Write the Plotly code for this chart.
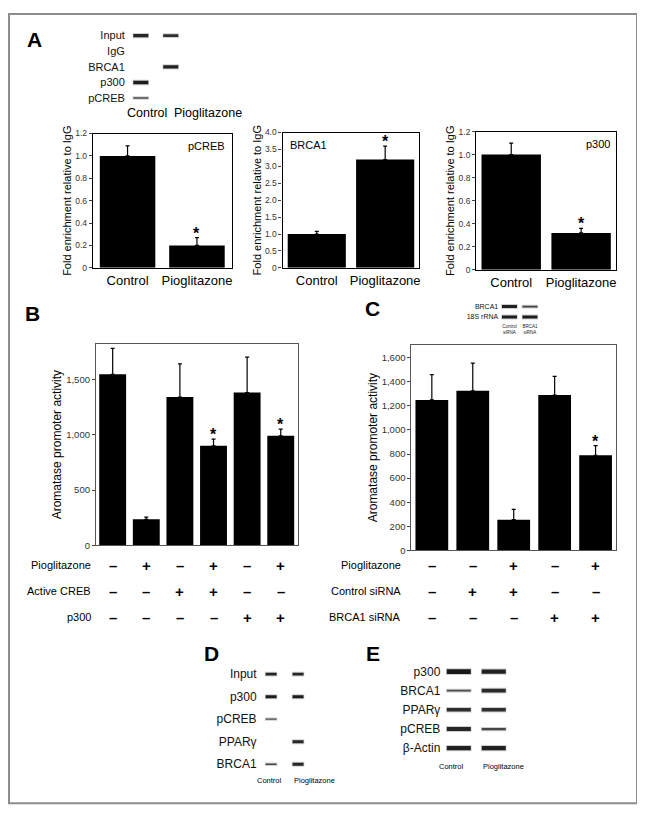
import plotly.graph_objects as go

W, H = 645, 815
PAGE = 8  # browser body margin around the figure


def px(x):
    return (x - PAGE) / W


def py(y):
    return 1 - (y - PAGE) / H


# ==================================================
# DATA
# ==================================================
a_groups = ["Control", "Pioglitazone"]
a_pcreb = [1.0, 0.2]
a_pcreb_err = [0.09, 0.07]
a_brca1 = [1.0, 3.2]
a_brca1_err = [0.08, 0.4]
a_p300 = [1.0, 0.32]
a_p300_err = [0.1, 0.04]
a_star = [False, True]
a_tick_small = ["0", "0.2", "0.4", "0.6", "0.8", "1.0", "1.2"]
a_tick_small_vals = [0, 0.2, 0.4, 0.6, 0.8, 1.0, 1.2]
a_tick_big = ["0", "0.5", "1.0", "1.5", "2.0", "2.5", "3.0", "3.5", "4.0"]
a_tick_big_vals = [0, 0.5, 1.0, 1.5, 2.0, 2.5, 3.0, 3.5, 4.0]

b_groups = ["b1", "b2", "b3", "b4", "b5", "b6"]
b_values = [1545, 235, 1340, 900, 1380, 990]
b_err = [235, 20, 300, 60, 320, 60]
b_star = [False, False, False, True, False, True]
b_rows = ["Pioglitazone", "Active CREB", "p300"]
b_signs = [[0, 1, 0, 1, 0, 1], [0, 0, 1, 1, 0, 0], [0, 0, 0, 0, 1, 1]]
b_ticks = [0, 500, 1000, 1500]
b_ticktext = ["0", "500", "1,000", "1,500"]

c_groups = ["c1", "c2", "c3", "c4", "c5"]
c_values = [1250, 1325, 255, 1290, 790]
c_err = [210, 230, 85, 155, 80]
c_star = [False, False, False, False, True]
c_rows = ["Pioglitazone", "Control siRNA", "BRCA1 siRNA"]
c_signs = [[0, 0, 1, 0, 1], [0, 1, 1, 0, 0], [0, 0, 0, 1, 1]]
c_ticks = [0, 200, 400, 600, 800, 1000, 1200, 1400, 1600]
c_ticktext = ["0", "200", "400", "600", "800", "1,000", "1,200", "1,400", "1,600"]

# western / ChIP blots: band strength (0 = no band)
blot_a_rows = ["Input", "IgG", "BRCA1", "p300", "pCREB"]
blot_a_lanes = ["Control", "Pioglitazone"]
blot_a_bands = [[0.8, 0.7], [0, 0], [0, 0.85], [0.9, 0], [0.35, 0]]

blot_c_rows = ["BRCA1", "18S rRNA"]
blot_c_lanes = ["Control<br>siRNA", "BRCA1<br>siRNA"]
blot_c_bands = [[0.85, 0.45], [0.9, 0.9]]

blot_d_rows = ["Input", "p300", "pCREB", "PPARγ", "BRCA1"]
blot_d_lanes = ["Control", "Pioglitazone"]
blot_d_bands = [[0.8, 0.8], [0.9, 0.9], [0.35, 0], [0, 0.8], [0.4, 0.8]]

blot_e_rows = ["p300", "BRCA1", "PPARγ", "pCREB", "β-Actin"]
blot_e_lanes = ["Control", "Pioglitazone"]
blot_e_bands = [[0.95, 0.85], [0.35, 0.75], [0.7, 0.7], [0.8, 0.45], [0.85, 0.85]]

FONT = "Liberation Sans, Arial, sans-serif"

fig = go.Figure()
annotations = []
axes = {}


def names(idx):
    s = "" if idx == 1 else str(idx)
    return "x" + s, "y" + s


# ==================================================
# BAR PANELS
# ==================================================
def add_bars(idx, cats, vals, errs, stars, gap):
    xa, ya = names(idx)
    fig.add_trace(go.Bar(
        x=cats, y=vals, xaxis=xa, yaxis=ya, width=[1 - gap] * len(vals),
        marker=dict(color="black", line=dict(width=0)),
        error_y=dict(type="data", array=errs, arrayminus=[0] * len(errs),
                     symmetric=False, color="black", thickness=1.2, width=2),
        showlegend=False, hoverinfo="y",
    ))
    for c, v, e, s in zip(cats, vals, errs, stars):
        if s:
            annotations.append(dict(
                x=c, y=v + e, xref=xa, yref=ya, text="<b>*</b>",
                yanchor="bottom", yshift=-6, font=dict(size=16)))


def bar_axes(idx, x0, x1, y0, y1, tickvals, ticktext, rng, title, box, tfont, show_x):
    xa, ya = names(idx)
    lw = 1.3 if box == "black" else 1
    axes["xaxis" + xa[1:]] = dict(
        domain=[px(x0), px(x1)], anchor=ya, showline=True, mirror=True,
        linecolor=box, linewidth=lw, ticks="", showgrid=False, zeroline=False,
        showticklabels=show_x,
        tickfont=dict(size=13, color="black", family=FONT))
    axes["yaxis" + ya[1:]] = dict(
        domain=[py(y1), py(y0)], anchor=xa, range=rng, showline=True, mirror=True,
        linecolor=box, linewidth=lw, ticks="outside", ticklen=3, tickcolor="#444",
        tickvals=tickvals, ticktext=ticktext, showgrid=False, zeroline=False,
        tickfont=dict(size=tfont, color="#333", family=FONT),
        title=dict(text=title, standoff=1,
                   font=dict(size=11 if box == "black" else 12, color="black", family=FONT)))


fold = "Fold enrichment relative to IgG"
arom = "Aromatase promoter activity"

add_bars(1, a_groups, a_pcreb, a_pcreb_err, a_star, 0.2)
bar_axes(1, 93, 232, 130, 266, a_tick_small_vals, a_tick_small, [0, 1.2], fold, "black", 8.5, True)
add_bars(2, a_groups, a_brca1, a_brca1_err, a_star, 0.15)
bar_axes(2, 283, 420, 129, 266, a_tick_big_vals, a_tick_big, [0, 4.0], fold, "black", 8.5, True)
add_bars(3, a_groups, a_p300, a_p300_err, a_star, 0.15)
bar_axes(3, 477, 617, 128, 268, a_tick_small_vals, a_tick_small, [0, 1.2], fold, "black", 8.5, True)
add_bars(4, b_groups, b_values, b_err, b_star, 0.2)
bar_axes(4, 96, 298, 343, 547, b_ticks, b_ticktext, [0, 1820], arom, "#555", 9.5, False)
add_bars(5, c_groups, c_values, c_err, c_star, 0.2)
bar_axes(5, 412, 617, 344, 552, c_ticks, c_ticktext, [0, 1707], arom, "#555", 9.5, False)


# ==================================================
# BLOTS
# ==================================================
def add_blot(idx, rows, lanes, bands, length, thick, x0, x1, y0, y1, rfont, lfont, show_lanes):
    xa, ya = names(idx)
    bx, by, lw, col = [], [], [], []
    for r, row in zip(rows, bands):
        for l, b in zip(lanes, row):
            if b <= 0:
                continue
            bx.append(l)
            by.append(r)
            lw.append(max(1.2, thick * b))
            g = int(110 - 90 * b)
            col.append("rgb(%d,%d,%d)" % (g, g, g))
    # soft halo, then the band core (line-ew length is 1.4 x size)
    fig.add_trace(go.Scatter(
        x=bx, y=by, xaxis=xa, yaxis=ya, mode="markers",
        marker=dict(symbol="line-ew", size=length / 1.4 + 1,
                    line=dict(width=[w + 2 for w in lw], color="rgba(60,60,60,0.25)")),
        showlegend=False, hoverinfo="skip",
    ))
    fig.add_trace(go.Scatter(
        x=bx, y=by, xaxis=xa, yaxis=ya, mode="markers",
        marker=dict(symbol="line-ew", size=length / 1.4,
                    line=dict(width=lw, color=col)),
        showlegend=False, hoverinfo="skip",
    ))
    axes["xaxis" + xa[1:]] = dict(
        domain=[px(x0), px(x1)], anchor=ya, range=[-0.5, len(lanes) - 0.5],
        type="category", categoryarray=lanes, showline=False,
        showgrid=False, zeroline=False, ticks="", showticklabels=show_lanes,
        tickfont=dict(size=lfont, color="#222", family=FONT))
    axes["yaxis" + ya[1:]] = dict(
        domain=[py(y1), py(y0)], anchor=xa, range=[len(rows) - 0.5, -0.5],
        type="category", categoryarray=rows, showline=False,
        showgrid=False, zeroline=False, ticks="",
        tickfont=dict(size=rfont, color="#111", family=FONT))


add_blot(6, blot_a_rows, blot_a_lanes, blot_a_bands, 15, 4, 126, 186, 23, 102, 11, 12, False)
add_blot(7, blot_c_rows, blot_c_lanes, blot_c_bands, 15, 3.5, 500, 541, 300, 321, 7, 4.5, True)
add_blot(8, blot_d_rows, blot_d_lanes, blot_d_bands, 11, 3.5, 258, 312, 666, 780, 12, 7.5, False)
add_blot(9, blot_e_rows, blot_e_lanes, blot_e_bands, 24, 5, 442, 512, 665, 762, 12, 7.5, False)

# lane labels (offset from lanes as in the original)
annotations += [
    dict(x=px(147), y=py(109), text="Control", font=dict(size=12.5)),
    dict(x=px(208), y=py(109), text="Pioglitazone", font=dict(size=12.5)),
    dict(x=px(270), y=py(785), text="Control", font=dict(size=7.5)),
    dict(x=px(315), y=py(785), text="Pioglitazone", font=dict(size=7.5)),
    dict(x=px(452), y=py(771), text="Control", font=dict(size=7.5)),
    dict(x=px(504), y=py(771), text="Pioglitazone", font=dict(size=7.5)),
]

# inner chart labels
annotations += [
    dict(x=0.97, y=0.97, xref="x domain", yref="y domain", text="pCREB",
         xanchor="right", yanchor="top", font=dict(size=11)),
    dict(x=0.04, y=0.97, xref="x2 domain", yref="y2 domain", text="BRCA1",
         xanchor="left", yanchor="top", font=dict(size=11)),
    dict(x=0.97, y=0.97, xref="x3 domain", yref="y3 domain", text="p300",
         xanchor="right", yanchor="top", font=dict(size=11)),
]

# panel letters
for letter, lx, ly in [("A", 35, 35), ("B", 33, 312), ("C", 373, 307),
                       ("D", 212, 656), ("E", 374, 656)]:
    annotations.append(dict(x=px(lx), y=py(ly), text="<b>%s</b>" % letter,
                            font=dict(size=21)))

# treatment tables
for rows, signs, xa, cats, lab_x in [(b_rows, b_signs, "x4", b_groups, 93),
                                     (c_rows, c_signs, "x5", c_groups, 404)]:
    for i, (r, s) in enumerate(zip(rows, signs)):
        yy = py(567 + 26.5 * i)
        annotations.append(dict(x=px(lab_x), y=yy, text=r, xanchor="right",
                                font=dict(size=11)))
        for c, v in zip(cats, s):
            annotations.append(dict(x=c, y=yy, xref=xa,
                                    text="<b>%s</b>" % ("+" if v else "–"),
                                    font=dict(size=15)))

for a in annotations:
    a.setdefault("xref", "paper")
    a.setdefault("yref", "paper")
    a.setdefault("xanchor", "center")
    a.setdefault("yanchor", "middle")
    a.setdefault("showarrow", False)
    f = dict(family=FONT, color="black")
    f.update(a.get("font", {}))
    a["font"] = f

fig.update_layout(
    width=W, height=H,
    margin=dict(l=0, r=0, t=0, b=0),
    paper_bgcolor="white", plot_bgcolor="white",
    font=dict(family=FONT, color="black"),
    annotations=annotations,
    shapes=[dict(type="rect", xref="paper", yref="paper",
                 x0=px(9), x1=px(638), y0=py(808), y1=py(9),
                 line=dict(color="#8c8c8c", width=2))],
    **axes,
)

fig.write_html("out.html")
